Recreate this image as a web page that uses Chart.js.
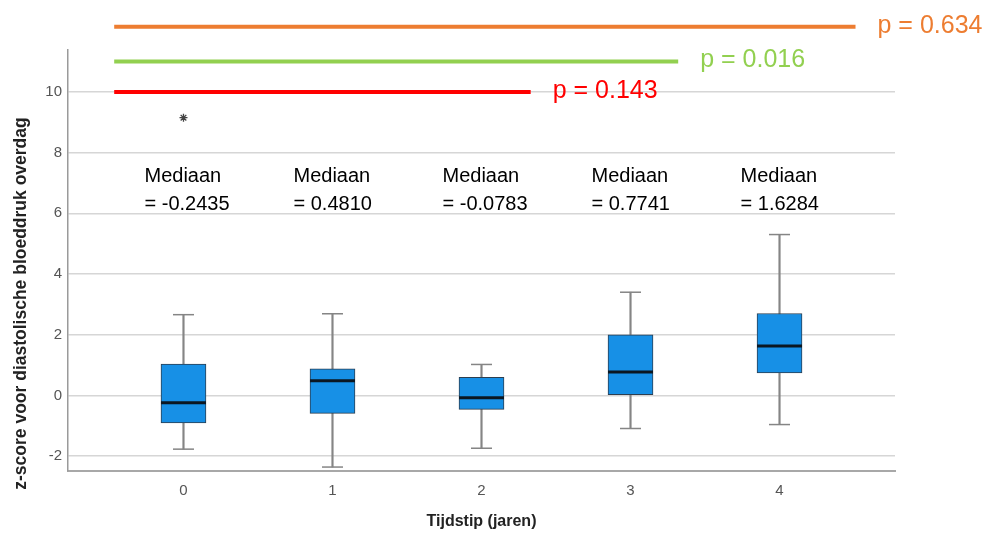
<!DOCTYPE html>
<html>
<head>
<meta charset="utf-8">
<script src="https://cdn.jsdelivr.net/npm/chart.js@4.4.1/dist/chart.umd.min.js"></script>
<style>
  html, body { margin: 0; padding: 0; background: #fff; }
  #wrap { width: 993px; height: 534px; }
</style>
</head>
<body>
<div id="wrap"><canvas id="chart"></canvas></div>
<script>
// ── Data ────────────────────────────────────────────────
const tijdstip  = [0, 1, 2, 3, 4];
const whiskerLo = [-1.77, -2.36, -1.74, -1.09, -0.96];
const q1        = [-0.91, -0.59, -0.46, 0.00, 0.74];
const mediaan   = [-0.2435, 0.4810, -0.0783, 0.7741, 1.6284];
const q3        = [1.03, 0.88, 0.60, 2.00, 2.70];
const whiskerHi = [2.66, 2.69, 1.02, 3.40, 5.30];
const outlierX  = [0];
const outlierY  = [9.15];
const yTicks    = [-2, 0, 2, 4, 6, 8, 10];
const xTicks    = [0, 1, 2, 3, 4];

// comparison lines above the plot
const pLabels = ['p = 0.634', 'p = 0.016', 'p = 0.143'];
const pColors = ['#ed7d31', '#92d050', '#ff0000'];
const pLevel  = [12.15, 11.0, 10.0];
const pStart  = [-0.465, -0.465, -0.465];
const pEnd    = [4.51, 3.32, 2.33];

const medLabelLevel = 7.2;
const FONT = '"Liberation Sans", Arial, sans-serif';

// ── Datasets ────────────────────────────────────────────
const pts = (xs, ys) => xs.map((x, i) => ({ x, y: ys[i] }));

const datasets = [
    {
        type: 'scatter', label: 'mediaan', order: 0,
        data: pts(tijdstip, mediaan),
        pointStyle: 'line', radius: 22.5, borderWidth: 3,
        borderColor: '#0b1722'
    },
    {
        type: 'bar', label: 'box', order: 1, grouped: false,
        data: tijdstip.map((x, i) => ({ x, y: [q1[i], q3[i]] })),
        barThickness: 45, backgroundColor: '#1790e6',
        borderColor: '#2c3e50', borderWidth: 1, borderSkipped: false
    },
    {
        type: 'bar', label: 'whisker', order: 2, grouped: false,
        data: tijdstip.map((x, i) => ({ x, y: [whiskerLo[i], whiskerHi[i]] })),
        barThickness: 1.5, backgroundColor: '#858585'
    },
    {
        type: 'scatter', label: 'capHi', order: 2,
        data: pts(tijdstip, whiskerHi),
        pointStyle: 'line', radius: 10.5, borderWidth: 1.5, borderColor: '#858585'
    },
    {
        type: 'scatter', label: 'capLo', order: 2,
        data: pts(tijdstip, whiskerLo),
        pointStyle: 'line', radius: 10.5, borderWidth: 1.5, borderColor: '#858585'
    },
    {
        type: 'scatter', label: 'outlier', order: 0,
        data: pts(outlierX, outlierY),
        pointStyle: 'star', radius: 4, borderWidth: 1.3, borderColor: '#444'
    }
];

pLabels.forEach((lbl, i) => {
    datasets.push({
        type: 'line', label: lbl, order: 0, clip: false,
        data: [{ x: pStart[i], y: pLevel[i] }, { x: pEnd[i], y: pLevel[i] }],
        borderColor: pColors[i], borderWidth: 4, pointRadius: 0
    });
});

// ── Text annotations ────────────────────────────────────
const annotate = {
    id: 'annotate',
    afterDatasetsDraw(chart) {
        const { ctx, chartArea } = chart;
        const x = chart.scales.x, y = chart.scales.y;
        ctx.save();

        // median labels
        ctx.fillStyle = '#000';
        ctx.font = '20px ' + FONT;
        ctx.textAlign = 'left';
        ctx.textBaseline = 'middle';
        const ly = y.getPixelForValue(medLabelLevel);
        tijdstip.forEach((t, i) => {
            const lx = x.getPixelForValue(t) - 39;
            ctx.fillText('Mediaan', lx, ly);
            ctx.fillText('= ' + mediaan[i].toFixed(4), lx, ly + 28);
        });

        // p values
        ctx.font = '25px ' + FONT;
        pLabels.forEach((lbl, i) => {
            ctx.fillStyle = pColors[i];
            ctx.fillText(lbl, x.getPixelForValue(pEnd[i]) + 22, y.getPixelForValue(pLevel[i]) - 1);
        });

        // y axis title
        ctx.translate(21, (chartArea.top + chartArea.bottom) / 2 + 43);
        ctx.rotate(-Math.PI / 2);
        ctx.textAlign = 'center';
        ctx.fillStyle = '#222';
        ctx.font = 'bold 17.5px ' + FONT;
        ctx.fillText('z-score voor diastolische bloeddruk overdag', 0, 0);

        ctx.restore();
    }
};

// ── Chart ───────────────────────────────────────────────
new Chart(document.getElementById('chart'), {
    type: 'bar',
    data: { datasets },
    plugins: [annotate],
    options: {
        responsive: true,
        maintainAspectRatio: false,
        animation: false,
        layout: { padding: { top: 50, right: 98, left: 0, bottom: 0 } },
        plugins: { legend: { display: false }, tooltip: { enabled: false } },
        scales: {
            x: {
                type: 'linear',
                min: -0.775, max: 4.775,
                offset: false,
                afterFit: s => { s.height = 63; },
                afterBuildTicks: s => { s.ticks = xTicks.map(v => ({ value: v })); },
                grid: { display: false, offset: false, drawTicks: false },
                border: { display: true, color: '#a8a8a8', width: 2 },
                ticks: { padding: 11, color: '#555', font: { family: FONT, size: 15 } },
                title: {
                    display: true, text: 'Tijdstip (jaren)', color: '#222',
                    font: { family: FONT, size: 16, weight: 'bold' },
                    padding: { top: 0, bottom: 3 }
                }
            },
            y: {
                min: -2.49, max: 11.38,
                afterFit: s => { s.width = 68; },
                afterBuildTicks: s => { s.ticks = yTicks.map(v => ({ value: v })); },
                grid: { color: '#d6d6d6', lineWidth: 1.5, drawTicks: false },
                border: { display: true, color: '#9a9a9a', width: 1.5 },
                ticks: { padding: 6, color: '#555', font: { family: FONT, size: 15 } }
            }
        }
    }
});
</script>
</body>
</html>
